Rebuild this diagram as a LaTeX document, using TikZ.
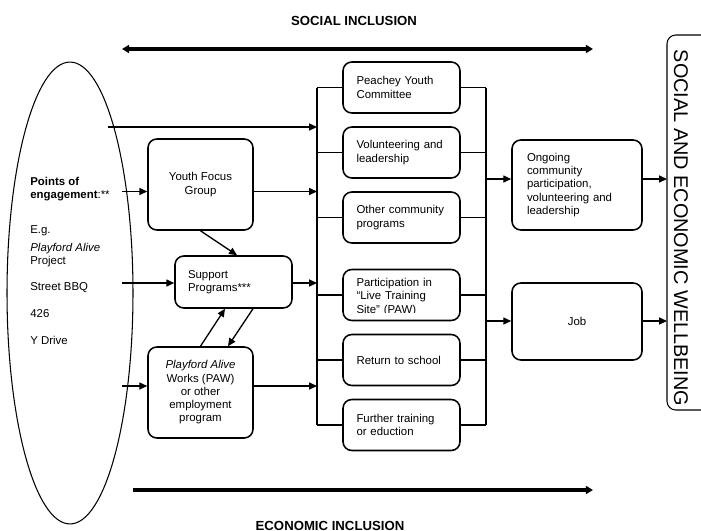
\documentclass[tikz,border=0pt]{standalone}
\usepackage{fontspec}
\setmainfont{Liberation Sans}
\usetikzlibrary{arrows.meta,shapes.geometric}
\tikzset{
  box/.style={draw, line width=0.9pt, rounded corners=5pt, inner sep=0pt, font=\fontsize{6.5}{7.55}\selectfont},
  midbox/.style={box, minimum width=2.34cm, minimum height=1.02cm, text width=1.8cm, align=left},
  ln/.style={line width=0.75pt},
  arr/.style={ln, -{Triangle[length=4.5pt,width=4pt]}},
  bigarr/.style={line width=1.9pt, -{Triangle[length=4pt,width=4.5pt]}},
  title/.style={font=\bfseries\fontsize{7.5}{9}\selectfont, inner sep=0pt, anchor=base}
}
\begin{document}
\begin{tikzpicture}[x=0.02cm, y=-0.02cm]
\useasboundingbox (0,0) rectangle (701,531);
% inclusion axes
\node[title] (soc) at (354,25) {SOCIAL INCLUSION};
\node[title] (eco) at (330,530) {ECONOMIC INCLUSION};
\coordinate (sl) at (122,49);
\coordinate (sr) at (593,49);
\draw[bigarr, {Triangle[length=4pt,width=4.5pt]}-{Triangle[length=4pt,width=4.5pt]}] (sl) -- (sr);
\coordinate (el) at (133,490);
\coordinate (er) at (593,490);
\draw[bigarr] (el) -- (er);
% points of engagement
\node[draw, ellipse, line width=0.6pt, minimum width=2.52cm, minimum height=9.24cm] (poe) at (70,293) {};
\node[anchor=north west, align=left, inner sep=0pt, font=\fontsize{6.5}{7.55}\selectfont] (pts) at (30,177)
  {\textbf{Points of}\\ \textbf{engagement}:**\\[12.3pt] E.g.\\[2.3pt] \textit{Playford Alive}\\ Project\\[7.6pt] Street BBQ\\[7.6pt] 426\\[7.6pt] Y Drive};
% left boxes
\node[box, minimum width=2.1cm, minimum height=1.82cm, align=center] (yfg) at (200.5,184.5) {Youth Focus\\ Group};
\node[box, minimum width=2.34cm, minimum height=1.04cm, text width=1.82cm, align=left] (sup) at (233.5,282) {Support\\ Programs***};
\node[box, minimum width=2.1cm, minimum height=1.82cm, align=center] (paw) at (200.5,392.5) {\textit{Playford Alive}\\ Works (PAW)\\ or other\\ employment\\ program};
% middle boxes
\node[midbox] (pyc) at (401.5,87.5) {Peachey Youth\\ Committee};
\node[midbox] (vol) at (401.5,152.5) {Volunteering and\\ leadership};
\node[midbox] (ocp) at (401.5,217.5) {Other community\\ programs};
\node[midbox] (ltr) at (401.5,295) {};
\begin{scope}
\clip (343,269) rectangle (460,312);
\node[midbox, draw=none] (ltrtxt) at (401.5,297) {Participation in\\ “Live Training\\ Site” (PAW)};
\end{scope}
\node[midbox] (rts) at (401.5,360) {Return to school};
\node[midbox] (fte) at (401.5,425) {Further training\\ or eduction};
% right boxes
\node[box, minimum width=2.6cm, minimum height=1.8cm, text width=2.0cm, align=left] (ong) at (577,185) {Ongoing\\ community\\ participation,\\ volunteering and\\ leadership};
\node[box, minimum width=2.6cm, minimum height=1.54cm, align=center] (job) at (577,321.5) {Job};
\node[rotate=-90, inner sep=0pt, font=\fontsize{11.3}{13}\selectfont] (seb) at (681,228) {SOCIAL AND ECONOMIC WELLBEING};
\draw[line width=0.6pt, rounded corners=5pt] (701,35) -| (667,410) -- (701,410);
\coordinate (sebl) at (667,222);
% buses
\coordinate (blt) at (317,87.5);
\coordinate (blb) at (317,425);
\coordinate (brt) at (486,87.5);
\coordinate (brb) at (486,425);
\draw[ln] (blt) -- (blb);
\draw[ln] (brt) -- (brb);
\foreach \b in {pyc,vol,ocp,ltr,rts,fte}
{
  \draw[ln] (\b.west -| blt) -- (\b.west);
  \draw[ln] (\b.east) -- (\b.east -| brt);
}
% arrows from points of engagement
\coordinate (e0) at (108,127);
\coordinate (e1) at (122,191.5);
\coordinate (e2) at (122,283);
\coordinate (e3) at (122,386);
\draw[arr] (e0) -- (e0 -| blt);
\draw[arr] (e1) -- (e1 -| yfg.west);
\draw[arr] (e2) -- (e2 -| sup.west);
\draw[arr] (e3) -- (e3 -| paw.west);
\draw[arr] (yfg.east |- e1) -- (e1 -| blt);
\draw[arr] (sup.east |- e2) -- (e2 -| blt);
\draw[arr] (paw.east |- e3) -- (e3 -| blt);
\draw[arr] (yfg.south) -- ([xshift=0.07cm]sup.north);
\draw[arr] (paw.north) -- ([xshift=-0.17cm]sup.south);
\draw[arr] ([xshift=0.39cm]sup.south) -- ([xshift=0.55cm]paw.north);
% outcomes
\coordinate (r1) at (486,179);
\coordinate (r2) at (486,321);
\draw[arr] (r1) -- (r1 -| ong.west);
\draw[arr] (r2) -- (r2 -| job.west);
\draw[arr] (ong.east |- r1) -- (r1 -| sebl);
\draw[arr] (job.east |- r2) -- (r2 -| sebl);
\end{tikzpicture}
\end{document}
